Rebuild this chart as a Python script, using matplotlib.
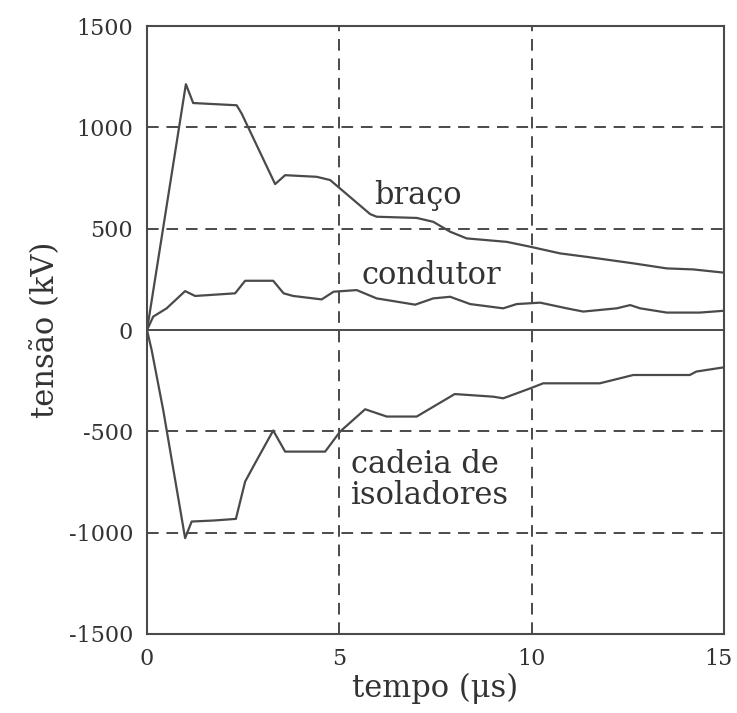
import matplotlib.pyplot as plt
import matplotlib.transforms as mtransforms

# braço
t_braco = [0, 1.01, 1.2, 2.33, 2.46, 3.33, 3.59, 4.41, 4.76, 5.02, 5.80, 5.97, 7.01, 7.44,
           7.88, 8.31, 9.35, 9.96, 10.74, 11.43, 12.64, 13.51, 14.20, 15.0]
v_braco = [0, 1213, 1120, 1109, 1068, 720, 764, 756, 740, 698, 572, 559, 553, 534,
           485, 452, 435, 411, 378, 361, 329, 304, 299, 283]

# condutor
t_cond = [0, 0.16, 0.51, 0.99, 1.25, 2.29, 2.55, 3.28, 3.55, 3.80, 4.54, 4.85, 5.45, 5.97,
          6.49, 6.97, 7.44, 7.88, 8.40, 9.26, 9.61, 10.22, 10.91, 11.34, 12.21, 12.56,
          12.82, 13.51, 14.37, 15.0]
v_cond = [0, 66, 107, 192, 168, 181, 243, 243, 181, 168, 151, 189, 197, 156,
          140, 125, 156, 164, 128, 107, 128, 135, 107, 91, 107, 123,
          107, 86, 86, 95]

# cadeia de isoladores
t_cad = [0, 0.12, 0.42, 0.99, 1.16, 1.73, 2.31, 2.55, 2.81, 3.28, 3.59, 4.63, 5.02, 5.67,
         6.23, 7.01, 8.00, 9.00, 9.26, 9.96, 10.30, 11.77, 12.64, 14.11, 14.28, 15.0]
v_cad = [0, -99, -394, -1027, -945, -940, -932, -748, -657, -496, -600, -600, -501, -391,
         -427, -427, -316, -329, -337, -288, -263, -263, -222, -222, -205, -184]

xticks = [0, 5, 10, 15]
yticks = [-1500, -1000, -500, 0, 500, 1000, 1500]

plt.rcParams["font.family"] = ["DejaVu Serif"]
plt.rcParams["axes.unicode_minus"] = False
cor = "#4a4a4a"
txt = "#333333"

fig = plt.figure(figsize=(7.37, 7.13), dpi=100)
ax = fig.add_axes([0.1995, 0.1108, 0.7829, 0.8527])

for v in [-1000, -500, 500, 1000]:
    ax.axhline(v, color=cor, lw=1.4, ls=(0, (6, 4)), zorder=1)
for t in [5, 10]:
    ax.axvline(t, color=cor, lw=1.4, ls=(0, (6, 4)), zorder=1)
ax.axhline(0, color=cor, lw=1.4, zorder=1)

ax.plot(t_braco, v_braco, color=cor, lw=1.6, zorder=2)
ax.plot(t_cond, v_cond, color=cor, lw=1.6, zorder=2)
ax.plot(t_cad, v_cad, color=cor, lw=1.6, zorder=2)

ax.text(7.04, 665, "braço", fontsize=22, color=txt, ha="center", va="center")
ax.text(7.38, 271, "condutor", fontsize=22, color=txt, ha="center", va="center")
ax.text(5.3, -740, "cadeia de\nisoladores", fontsize=22, color=txt,
        ha="left", va="center", linespacing=1.0)

ax.set_xlim(0, 15)
ax.set_ylim(-1500, 1500)
ax.set_xticks(xticks)
ax.set_yticks(yticks)
ax.tick_params(length=0, labelsize=16, colors=txt, pad=10)
for s in ax.spines.values():
    s.set_color(cor)
    s.set_linewidth(1.5)

# o "15" encosta na borda direita
fig.canvas.draw()
lab15 = ax.get_xticklabels()[-1]
lab15.set_transform(lab15.get_transform() +
                    mtransforms.ScaledTranslation(-4 / 72, 0, fig.dpi_scale_trans))

ax.set_xlabel("tempo (μs)", fontsize=22, color=txt, labelpad=2)
ax.set_ylabel("tensão (kV)", fontsize=22, color=txt, labelpad=6)

fig.savefig("out.png", dpi=100)
